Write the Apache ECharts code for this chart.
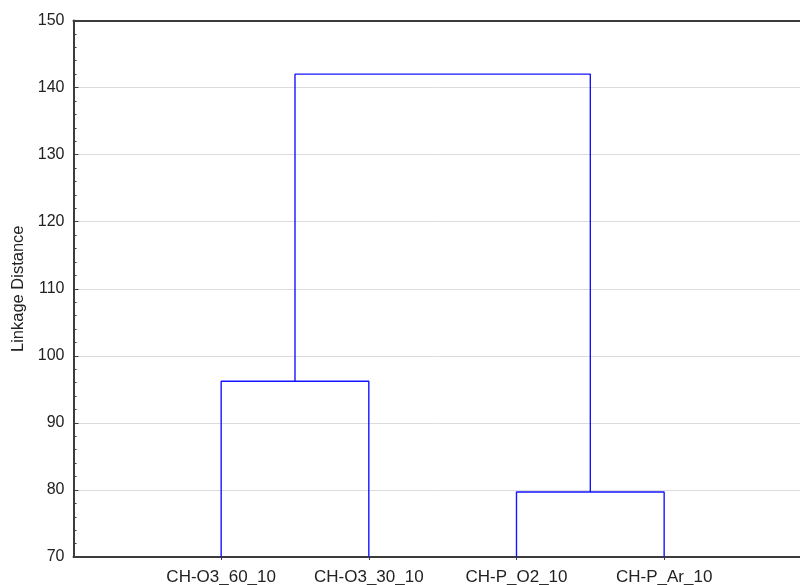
<!DOCTYPE html>
<html><head><meta charset="utf-8">
<script src="https://cdn.jsdelivr.net/npm/echarts@6/dist/echarts.min.js"></script>
<style>html,body{margin:0;padding:0;background:#fff}#c{width:800px;height:585px}</style>
</head><body><div id="c"></div>
<script>
// Leaves (in dendrogram order)
var leaves = ['CH-O3_60_10', 'CH-O3_30_10', 'CH-P_O2_10', 'CH-P_Ar_10'];
// Merges: [leftMember, rightMember, height]; members: leaf index (number) or 'm'+mergeIndex
var merges = [
  [0, 1, 96.2],
  [2, 3, 79.7],
  ['m0', 'm1', 142.0]
];
var yTicks = [70, 80, 90, 100, 110, 120, 130, 140, 150];
var yMin = 70, yMax = 150;
// visible part of the x range (plot is cropped at the right edge of the picture)
var xMin = 0, xMax = 4.92;

var pos = {};
function member(m) {
  if (typeof m === 'number') return { x: m + 1, y: yMin };
  return pos[m];
}
var series = [];
merges.forEach(function (mg, i) {
  var a = member(mg[0]), b = member(mg[1]), h = mg[2];
  pos['m' + i] = { x: (a.x + b.x) / 2, y: h };
  series.push({
    type: 'line', silent: true, symbol: 'none', animation: false,
    lineStyle: { color: '#1414ff', width: 1.4 },
    data: [[a.x, a.y], [a.x, h], [b.x, h], [b.x, b.y]]
  });
});
var leafPos = leaves.map(function (_, i) { return i + 1; });
var font = 'Liberation Sans, Arial';

var chart = echarts.init(document.getElementById('c'), null, { renderer: 'canvas' });
chart.setOption({
  backgroundColor: '#fff',
  animation: false,
  grid: { left: 73.5, top: 20.5, right: 0, bottom: 28, show: false, containLabel: false, outerBoundsMode: 'none' },
  xAxis: [{
    type: 'value', min: xMin, max: xMax,
    axisLine: { lineStyle: { color: '#3c3c3c', width: 2 } },
    axisTick: { show: true, length: 3, lineStyle: { color: '#3c3c3c' }, customValues: leafPos },
    axisLabel: {
      customValues: leafPos,
      formatter: function (v) { return leaves[Math.round(v) - 1] || ''; },
      color: '#222', fontFamily: font, fontSize: 17, margin: 12
    },
    splitLine: { show: false }
  }, {
    type: 'value', min: xMin, max: xMax, position: 'top',
    axisLine: { show: true, lineStyle: { color: '#3c3c3c', width: 2 } },
    axisTick: { show: false }, axisLabel: { show: false }, splitLine: { show: false }
  }],
  yAxis: {
    type: 'value', min: yMin, max: yMax, interval: 10,
    name: 'Linkage Distance', nameLocation: 'middle', nameGap: 47, nameRotate: 90,
    nameTextStyle: { color: '#222', fontFamily: font, fontSize: 16.5 },
    axisLine: { show: true, lineStyle: { color: '#3c3c3c', width: 2 } },
    axisTick: { show: true, inside: true, length: 5, lineStyle: { color: '#3c3c3c' } },
    minorTick: { show: true, splitNumber: 5, length: 3, lineStyle: { color: '#3c3c3c' } },
    axisLabel: { color: '#222', fontFamily: font, fontSize: 16, margin: 9,
      formatter: function (v) { return yTicks.indexOf(v) >= 0 ? String(v) : ''; } },
    splitLine: { show: true, lineStyle: { color: '#dcdcdc', width: 1 } }
  },
  series: series
});
</script></body></html>
